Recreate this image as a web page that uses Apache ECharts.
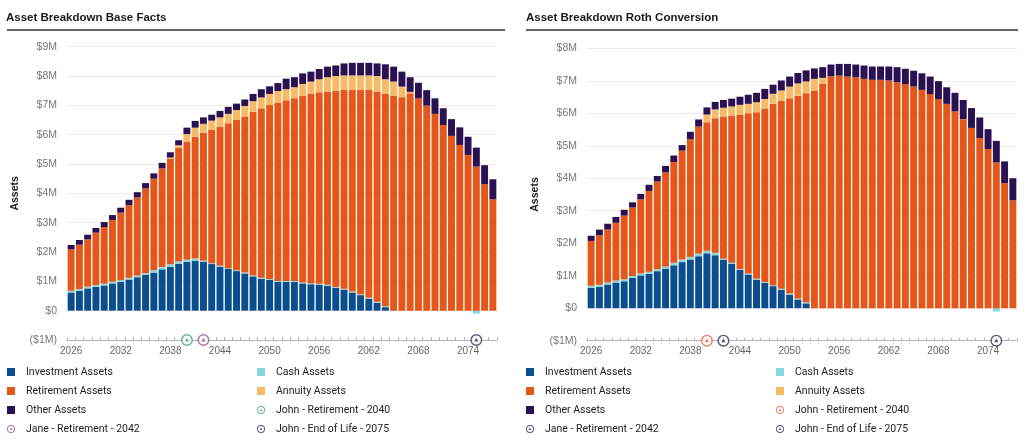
<!DOCTYPE html>
<html>
<head>
<meta charset="utf-8">
<script src="https://cdn.jsdelivr.net/npm/echarts@6.0.0/dist/echarts.min.js"></script>
<style>
	html, body { margin: 0; padding: 0; background: #fff; }
	#main { width: 1024px; height: 441px; }
</style>
</head>
<body>
<div id="main"></div>
<script>
// 年份
var years = ['2026','2027','2028','2029','2030','2031','2032','2033','2034','2035',
	'2036','2037','2038','2039','2040','2041','2042','2043','2044','2045',
	'2046','2047','2048','2049','2050','2051','2052','2053','2054','2055',
	'2056','2057','2058','2059','2060','2061','2062','2063','2064','2065',
	'2066','2067','2068','2069','2070','2071','2072','2073','2074','2075',
	'2076','2077'];

// Base Facts ($M)
var baseInvestment = [0.62,0.68,0.76,0.81,0.86,0.93,0.98,1.06,1.14,1.22,
	1.30,1.41,1.50,1.60,1.66,1.70,1.67,1.59,1.50,1.42,
	1.35,1.27,1.17,1.09,1.05,0.98,0.98,0.98,0.93,0.90,
	0.89,0.85,0.78,0.72,0.62,0.53,0.41,0.27,0.12,0,
	0,0,0,0,0,0,0,0,0,0,0,0];
var baseCash = [0.06,0.06,0.06,0.06,0.06,0.06,0.06,0.06,0.06,0.06,
	0.08,0.08,0.08,0.08,0.08,0.08,0.03,0.03,0.03,0.03,
	0.03,0.03,0.03,0.03,0.03,0.03,0.03,0.03,0.03,0.03,
	0.03,0.03,0.03,0.03,0.03,0.03,0.03,0.03,0.03,0,
	0,0,0,0,0,0,0,0,0,-0.1,0,0];
var baseRetirement = [1.41,1.51,1.61,1.79,1.93,2.10,2.30,2.48,2.66,2.89,
	3.12,3.36,3.61,3.88,4.01,4.15,4.37,4.54,4.74,4.94,
	5.12,5.32,5.58,5.78,5.93,6.09,6.16,6.23,6.36,6.46,
	6.53,6.59,6.69,6.77,6.87,6.96,7.08,7.17,7.24,7.32,
	7.28,7.41,7.24,6.99,6.71,6.33,5.96,5.65,5.31,4.91,
	4.31,3.80];
var baseAnnuity = [0,0,0,0,0,0,0,0,0,0,
	0,0,0.03,0.08,0.27,0.31,0.30,0.32,0.32,0.32,
	0.34,0.36,0.36,0.37,0.38,0.39,0.38,0.38,0.41,0.42,
	0.44,0.49,0.50,0.50,0.50,0.50,0.50,0.53,0.50,0.49,
	0.36,0.05,0,0,0,0,0,0,0,0,0,0];
var baseOther = [0.15,0.16,0.16,0.16,0.17,0.17,0.17,0.18,0.18,0.18,
	0.18,0.19,0.18,0.17,0.22,0.23,0.22,0.20,0.22,0.24,
	0.22,0.22,0.25,0.28,0.26,0.27,0.36,0.34,0.36,0.34,
	0.35,0.36,0.36,0.41,0.43,0.43,0.43,0.43,0.51,0.51,
	0.51,0.50,0.53,0.53,0.53,0.57,0.57,0.60,0.62,0.65,
	0.65,0.68];

// Roth Conversion ($M)
var rothInvestment = [0.63,0.66,0.73,0.79,0.83,0.93,1.01,1.06,1.14,1.22,
	1.32,1.42,1.50,1.60,1.69,1.63,1.49,1.37,1.18,1.04,
	0.88,0.78,0.68,0.57,0.42,0.27,0.15,0,0,0,
	0,0,0,0,0,0,0,0,0,0,
	0,0,0,0,0,0,0,0,0,0,0,0];
var rothCash = [0.06,0.06,0.06,0.06,0.06,0.06,0.06,0.06,0.06,0.06,
	0.08,0.08,0.08,0.08,0.08,0.08,0.03,0.03,0.03,0.03,
	0.03,0.03,0.03,0.03,0.03,0.03,0.03,0,0,0,
	0,0,0,0,0,0,0,0,0,0,
	0,0,0,0,0,0,0,0,0,-0.1,0,0];
var rothRetirement = [1.38,1.53,1.63,1.78,1.96,2.11,2.28,2.49,2.70,2.90,
	3.10,3.35,3.62,3.91,3.95,4.14,4.38,4.53,4.75,4.93,
	5.12,5.32,5.58,5.79,6.01,6.24,6.44,6.70,6.90,7.14,
	7.16,7.13,7.11,7.06,7.03,7.03,7.01,6.95,6.90,6.82,
	6.72,6.59,6.44,6.29,6.06,5.82,5.55,5.24,4.90,4.49,
	3.85,3.32];
var rothAnnuity = [0,0,0,0,0,0,0,0,0,0,
	0,0,0,0,0.24,0.27,0.27,0.28,0.30,0.29,
	0.31,0.31,0.31,0.31,0.36,0.38,0.36,0.36,0.19,0,
	0,0,0,0,0,0,0,0,0,0,
	0,0,0,0,0,0,0,0,0,0,0,0];
var rothOther = [0.16,0.17,0.18,0.18,0.18,0.16,0.17,0.19,0.17,0.20,
	0.20,0.17,0.23,0.22,0.22,0.23,0.24,0.24,0.25,0.28,
	0.29,0.31,0.28,0.31,0.31,0.32,0.34,0.32,0.33,0.36,
	0.36,0.39,0.39,0.41,0.41,0.41,0.43,0.47,0.47,0.49,
	0.51,0.54,0.55,0.51,0.57,0.59,0.61,0.63,0.61,0.66,
	0.67,0.68];

// 事件标记
var eventNames = ['John - Retirement - 2040', 'Jane - Retirement - 2042', 'John - End of Life - 2075'];
var eventYears = ['2040', '2042', '2075'];
var baseEventColors = ['#36a68c', '#9c4f98', '#2b2f5e'];
var rothEventColors = ['#e0623a', '#2b2a5c', '#2b2f5e'];

var assetNames = ['Investment Assets', 'Cash Assets', 'Retirement Assets', 'Annuity Assets', 'Other Assets'];
var assetColors = ['#0b4e8e', '#86d8dc', '#e5561a', '#f7bb68', '#2a1152'];

var MARK = 'path://M12,0A12,12 0 1,1 12,24A12,12 0 1,1 12,0ZM12,2.8A9.2,9.2 0 1,0 12,21.2A9.2,9.2 0 1,0 12,2.8ZM12,7.5L16.2,15L7.8,15Z';
var SQUARE = 'path://M0,0H8V8H0Z';

var myChart = echarts.init(document.getElementById('main'));

function moneyLabel(v) {
	if (v < 0) return '($' + (-v) + 'M)';
	if (v === 0) return '$0';
	return '$' + v + 'M';
}

function barSeries(idx, stack, lists) {
	var out = [];
	lists.forEach(function(list, i) {
		out.push({
			name : assetNames[i],
			type : 'bar',
			stack : stack,
			xAxisIndex : idx,
			yAxisIndex : idx,
			barCategoryGap : '16%',
			itemStyle : { color : assetColors[i] },
			emphasis : { disabled : true },
			data : list
		});
	});
	return out;
}

function eventSeries(idx, colors) {
	var out = [];
	// 白底
	out.push({
		name : 'bg' + idx,
		type : 'scatter',
		xAxisIndex : idx,
		yAxisIndex : idx,
		symbol : 'circle',
		symbolSize : 11,
		itemStyle : { color : '#fff' },
		silent : true,
		data : eventYears.map(function(y) { return [y, -1]; })
	});
	eventNames.forEach(function(name, i) {
		out.push({
			name : name,
			type : 'scatter',
			xAxisIndex : idx,
			yAxisIndex : idx,
			symbol : MARK,
			symbolSize : 12,
			itemStyle : { color : colors[i] },
			data : [[eventYears[i], -1]]
		});
	});
	return out;
}

function legendCol(left, names, colors) {
	return {
		left : left,
		top : 365,
		orient : 'vertical',
		padding : 0,
		itemGap : 5,
		itemWidth : 20,
		itemHeight : 8,
		selectedMode : false,
		symbolKeepAspect : true,
		textStyle : { fontFamily : 'Roboto', fontSize : 10.5, color : '#222', lineHeight : 14 },
		data : names.map(function(n, i) {
			var isEvent = eventNames.indexOf(n) >= 0;
			return {
				name : n,
				icon : isEvent ? MARK : SQUARE,
				itemStyle : { color : colors[i] }
			};
		})
	};
}

function xAxisOpt(idx) {
	return {
		type : 'category',
		gridIndex : idx,
		data : years,
		axisLine : { onZero : false, lineStyle : { color : '#b5b5b5', width : 1 } },
		axisTick : { show : true, interval : 0, inside : true, length : 3, lineStyle : { color : '#b5b5b5' } },
		axisLabel : { interval : 5, color : '#666', fontSize : 10, margin : 6, fontFamily : 'Liberation Sans' }
	};
}

function yAxisOpt(idx, max) {
	return {
		type : 'value',
		gridIndex : idx,
		min : -1,
		max : max,
		interval : 1,
		name : 'Assets',
		nameLocation : 'middle',
		nameGap : 46,
		nameRotate : 90,
		nameTextStyle : { fontWeight : 'bold', fontSize : 10.5, color : '#222', fontFamily : 'Liberation Sans' },
		axisLine : { show : false },
		axisTick : { show : false },
		axisLabel : { formatter : moneyLabel, color : '#777', fontSize : 10.5, margin : 10, fontFamily : 'Liberation Sans' },
		splitLine : { lineStyle : { color : '#ebebeb' } }
	};
}

var series = [].concat(
	barSeries(0, 'base', [baseInvestment, baseCash, baseRetirement, baseAnnuity, baseOther]),
	eventSeries(0, baseEventColors),
	barSeries(1, 'roth', [rothInvestment, rothCash, rothRetirement, rothAnnuity, rothOther]),
	eventSeries(1, rothEventColors)
);

var col1 = ['Investment Assets', 'Retirement Assets', 'Other Assets', 'Jane - Retirement - 2042'];
var col2 = ['Cash Assets', 'Annuity Assets', 'John - Retirement - 2040', 'John - End of Life - 2075'];

var option = {
	animation : false,
	backgroundColor : '#fff',
	title : [
		{ text : 'Asset Breakdown Base Facts', left : 6, top : 12, padding : 0,
			textStyle : { fontFamily : 'Liberation Sans', fontWeight : 'bold', fontSize : 11.5, color : '#1a1a1a' } },
		{ text : 'Asset Breakdown Roth Conversion', left : 526, top : 12, padding : 0,
			textStyle : { fontFamily : 'Liberation Sans', fontWeight : 'bold', fontSize : 11.5, color : '#1a1a1a' } }
	],
	graphic : [
		{ type : 'line', shape : { x1 : 7, y1 : 30, x2 : 505, y2 : 30 }, style : { stroke : '#333', lineWidth : 1.5 } },
		{ type : 'line', shape : { x1 : 526, y1 : 30, x2 : 1018, y2 : 30 }, style : { stroke : '#333', lineWidth : 1.5 } }
	],
	grid : [
		{ left : 67, top : 46.7, width : 430, height : 293.3, outerBoundsMode : 'none' },
		{ left : 587, top : 48.3, width : 430, height : 292.4, outerBoundsMode : 'none' }
	],
	legend : [
		legendCol(7, col1, [assetColors[0], assetColors[2], assetColors[4], baseEventColors[1]]),
		legendCol(257, col2, [assetColors[1], assetColors[3], baseEventColors[0], baseEventColors[2]]),
		legendCol(526, col1, [assetColors[0], assetColors[2], assetColors[4], rothEventColors[1]]),
		legendCol(776, col2, [assetColors[1], assetColors[3], rothEventColors[0], rothEventColors[2]])
	],
	xAxis : [ xAxisOpt(0), xAxisOpt(1) ],
	yAxis : [ yAxisOpt(0, 9), yAxisOpt(1, 8) ],
	series : series
};
myChart.setOption(option, true);
</script>
</body>
</html>
